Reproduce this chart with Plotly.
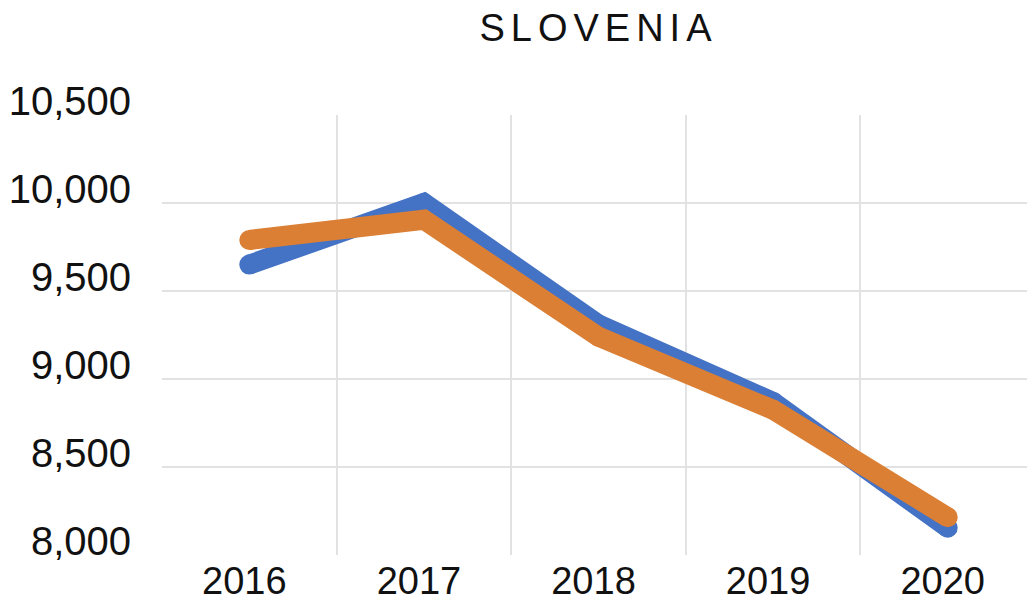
import plotly.graph_objects as go

years = [2016, 2017, 2018, 2019, 2020]
series_blue = [9650, 10000, 9310, 8870, 8155]
series_orange = [9790, 9905, 9240, 8825, 8215]
y_ticks = [8000, 8500, 9000, 9500, 10000, 10500]
title_text = "SLOVENIA"

FONT = "Liberation Sans, Arial, Helvetica, sans-serif"
W, H = 1027, 594  # page body adds an 8px offset

fig = go.Figure()
for vals, col in ((series_blue, "#4472C4"), (series_orange, "#DB7F35")):
    fig.add_trace(go.Scatter(x=years, y=vals, mode="lines+markers",
                             line=dict(color=col, width=20),
                             marker=dict(color=col, size=20, line=dict(width=0)),
                             showlegend=False))

x_bounds = [y + 0.5 for y in years[:-1]]
y_inner = y_ticks[1:-1]

fig.update_layout(
    width=W, height=H,
    margin=dict(l=154, r=0, t=107, b=47),
    paper_bgcolor="white", plot_bgcolor="white",
    font=dict(family=FONT, color="#111111"),
    title=dict(text=f'<span style="letter-spacing:6px">{title_text}</span>',
               x=0.5, xref="paper", xanchor="center",
               y=1 - 20 / H, yref="container", yanchor="middle",
               font=dict(size=38, color="#111111")),
    xaxis=dict(range=[years[0] - 0.5, years[-1] + 0.5], automargin=False,
               tickmode="array", tickvals=years, ticktext=[str(y) for y in years],
               showgrid=False, zeroline=False, showline=False, ticks="",
               tickfont=dict(size=38), ticklabelstandoff=0, ticklabelshift=-5,
               minor=dict(tickmode="array", tickvals=x_bounds, showgrid=True,
                          gridcolor="#e2e2e2", gridwidth=2, ticks="")),
    yaxis=dict(range=[y_ticks[0], y_ticks[-1]], automargin=False,
               tickmode="array", tickvals=y_ticks, tickformat=",d",
               showgrid=False, zeroline=False, showline=False, ticks="",
               tickfont=dict(size=40), ticklabelstandoff=30, ticklabelshift=-14,
               minor=dict(tickmode="array", tickvals=y_inner, showgrid=True,
                          gridcolor="#e2e2e2", gridwidth=2, ticks="")),
)

fig.write_html("out.html")
